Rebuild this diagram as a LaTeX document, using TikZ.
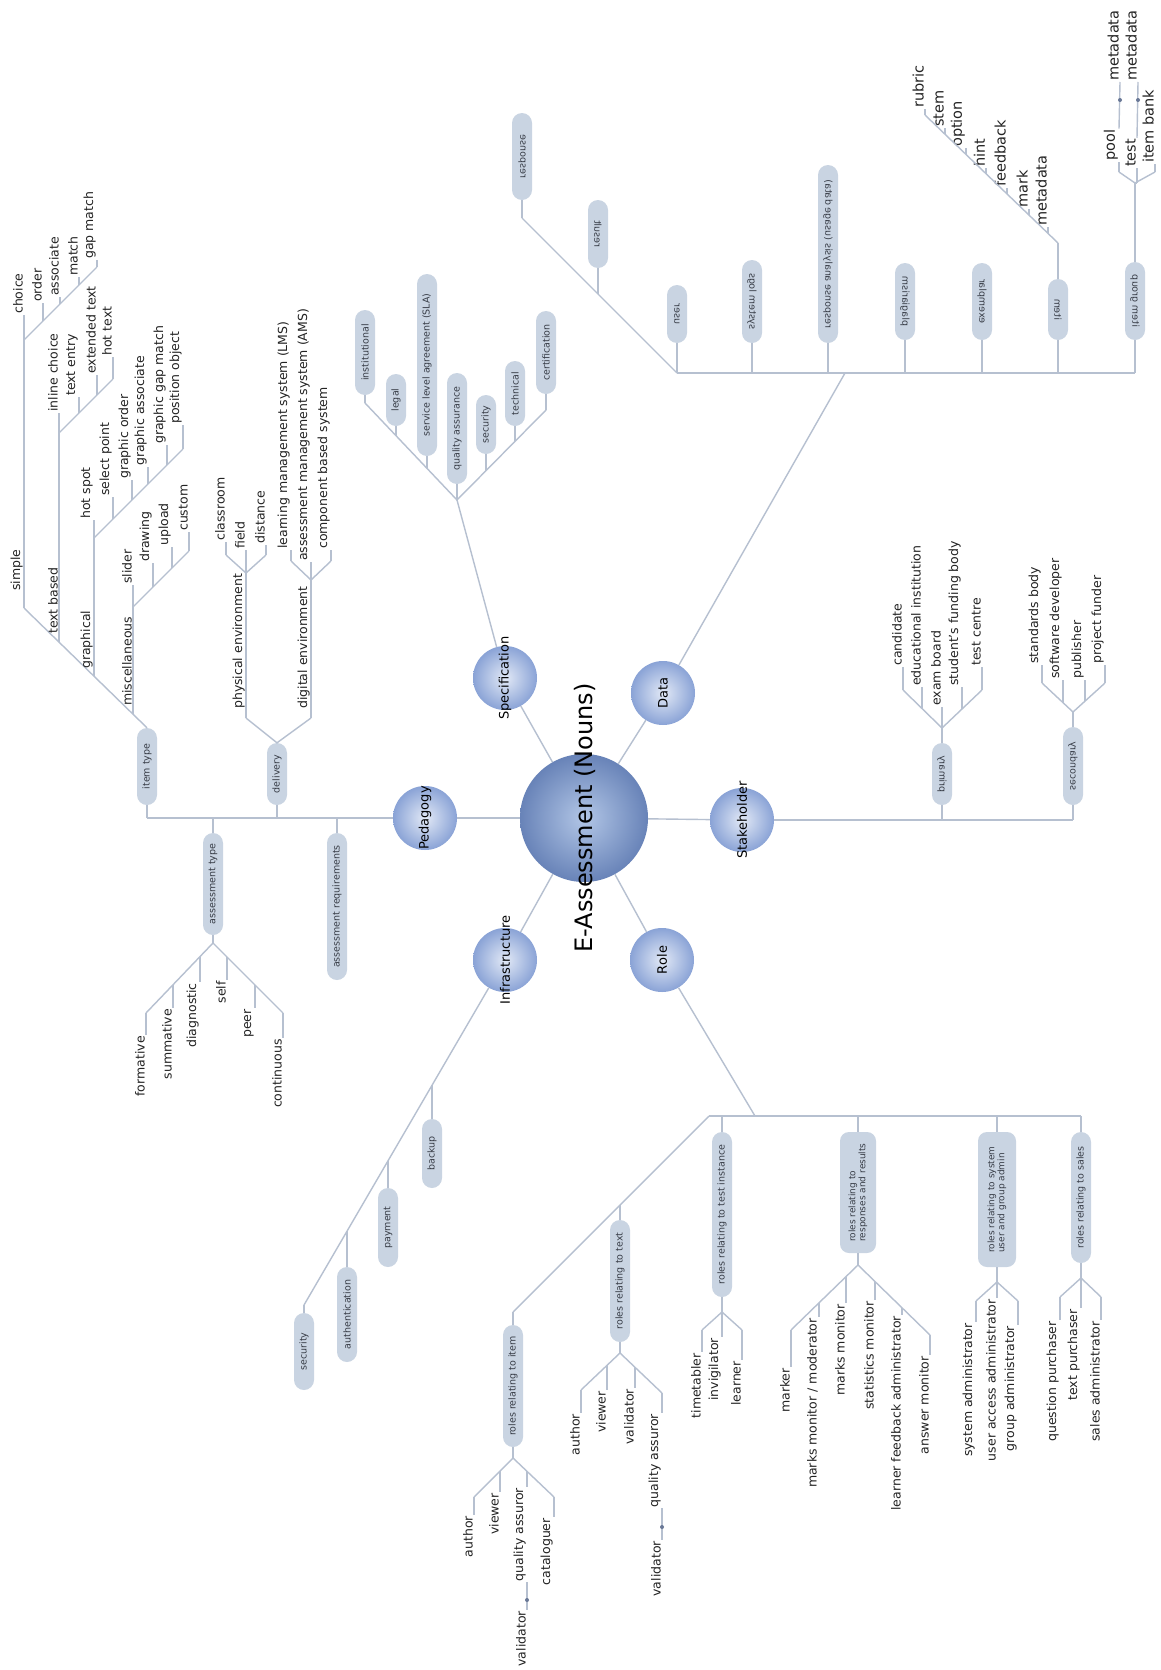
\documentclass[tikz,border=0pt]{standalone}
\usepackage{fontspec}
\setmainfont{DejaVu Sans}
\definecolor{lc}{RGB}{182,192,208}
\definecolor{pillc}{RGB}{201,212,226}
\definecolor{pilltxt}{RGB}{55,60,70}
\definecolor{leaftxt}{RGB}{35,35,35}
\definecolor{dotc}{RGB}{105,120,150}
\definecolor{satin}{RGB}{226,233,246}
\definecolor{satout}{RGB}{138,163,214}
\definecolor{rootin}{RGB}{178,198,230}
\definecolor{rootout}{RGB}{104,131,184}
\tikzset{
  ln/.style={draw=lc, line width=1.4pt},
  pill/.style={rotate=90, fill=pillc, rounded corners=10pt, minimum height=20pt, inner xsep=3pt, inner ysep=2pt, font=\fontsize{9.5}{10.5}\selectfont, text=pilltxt},
  mpill/.style={pill, yscale=-1},
  upl/.style={rotate=90, anchor=south west, inner sep=1pt, font=\fontsize{12.5}{14}\selectfont, text=leaftxt},
  upd/.style={upl, font=\fontsize{14.5}{16}\selectfont},
  dnl/.style={rotate=90, anchor=south east, inner sep=1pt, font=\fontsize{12.5}{14}\selectfont, text=leaftxt},
  sat/.style={circle, minimum size=64pt, inner sep=0pt, shading=radial, inner color=satin, outer color=satout},
  satl/.style={rotate=90, font=\fontsize{13}{15}\selectfont, text=black},
  dotn/.style={circle, fill=dotc, inner sep=0pt, minimum size=4pt},
}
\newcommand\UL[5]{\coordinate (#1j) at (#2,#3); \node[upl] (#1) at (#2,#4) {#5}; \draw[ln] (#1j) -- (#1.south west);}
\newcommand\UD[5]{\coordinate (#1j) at (#2,#3); \node[upd] (#1) at (#2,#4) {#5}; \draw[ln] (#1j) -- (#1.south west);}
\newcommand\DL[5]{\coordinate (#1j) at (#2,#3); \node[dnl] (#1) at (#2,#4) {#5}; \draw[ln] (#1j) -- (#1.south east);}
\newcommand\PL[5]{\node[pill, minimum width=#4-#3] (#1) at (#2,{(#3+#4)/2}) {#5};}
\newcommand\PM[5]{\node[mpill, minimum width=#4-#3] (#1) at (#2,{(#3+#4)/2}) {#5};}
\begin{document}
\begin{tikzpicture}[x=1pt,y=-1pt]
\fill[white] (0,0) rectangle (1161,1670);
\useasboundingbox (0,0) rectangle (1161,1670);
% ---------- circles ----------
\node[circle, minimum size=128pt, inner sep=0pt, shading=radial, inner color=rootin, outer color=rootout] (root) at (584,818) {};
\node[sat] (ped) at (425,818) {};
\node[sat] (spec) at (505,678) {};
\node[sat] (data) at (663,693) {};
\node[sat] (stake) at (742,820) {};
\node[sat] (role) at (662,960) {};
\node[sat] (infra) at (505,960) {};
\draw[ln] (root) -- (ped);
\draw[ln] (root) -- (spec);
\draw[ln] (root) -- (data);
\draw[ln] (root) -- (stake);
\draw[ln] (root) -- (role);
\draw[ln] (root) -- (infra);
% ---------- Pedagogy ----------
\coordinate (pedbar) at (147,818);
\draw[ln] (ped) -- (pedbar);
\PL{itype}{147}{728}{805}{item type}
\PL{deliv}{277}{743}{805}{delivery}
\PL{atype}{213}{833}{935}{assessment type}
\PL{areq}{337}{833}{980}{assessment requirements}
\draw[ln] (pedbar) -- (itype.west);
\coordinate (delj) at (277,818); \draw[ln] (delj) -- (deliv.west);
\coordinate (atj) at (213,818); \draw[ln] (atj) -- (atype.east);
\coordinate (arj) at (337,818); \draw[ln] (arj) -- (areq.east);
% item type
\coordinate (simplej) at (24,608);
\draw[ln] (itype.east) -- (simplej);
\coordinate (simplef) at (24,340); \draw[ln] (simplej) -- (simplef);
\node[upl] (simple) at (24,592) {simple};
\coordinate (tbj) at (59,642); \coordinate (tbf) at (59,433); \draw[ln] (tbj) -- (tbf);
\node[upl] (tb) at (59,635) {text based};
\coordinate (grj) at (94,676); \coordinate (grf) at (94,538); \draw[ln] (grj) -- (grf);
\node[upl] (gr) at (94,670) {graphical};
\coordinate (mij) at (133,714); \coordinate (mif) at (133,607); \draw[ln] (mij) -- (mif);
\node[upl] (mi) at (133,707) {miscellaneous};
\UL{choice}{24}{340}{315}{choice}
\UL{order}{43}{321}{303}{order}
\UL{associate}{60}{304}{297}{associate}
\UL{match}{79}{285}{277}{match}
\UL{gapmatch}{97}{267}{260}{gap match}
\draw[ln] (simplef) -- (gapmatchj);
\UL{inline}{59}{433}{413}{inline choice}
\UL{tentry}{79}{413}{397}{text entry}
\UL{exttext}{97}{395}{375}{extended text}
\UL{hottext}{113}{379}{357}{hot text}
\draw[ln] (tbf) -- (hottextj);
\UL{hotspot}{94}{538}{520}{hot spot}
\UL{selpoint}{113}{519}{497}{select point}
\UL{gorder}{132}{500}{480}{graphic order}
\UL{gassoc}{148}{484}{467}{graphic associate}
\UL{ggap}{167}{465}{445}{graphic gap match}
\UL{posobj}{183}{449}{425}{position object}
\draw[ln] (grf) -- (posobjj);
\UL{slider}{133}{607}{585}{slider}
\UL{drawing}{153}{587}{563}{drawing}
\UL{upload}{172}{568}{547}{upload}
\UL{custom}{189}{551}{532}{custom}
\draw[ln] (mif) -- (customj);
% delivery
\coordinate (physj) at (246,718); \coordinate (digj) at (311,718);
\draw[ln] (physj) -- (deliv.east) -- (digj);
\coordinate (physf) at (246,573); \draw[ln] (physj) -- (physf);
\node[upl] (phys) at (246,710) {physical environment};
\coordinate (digf) at (311,580); \draw[ln] (digj) -- (digf);
\node[upl] (dig) at (311,710) {digital environment};
\UL{classroom}{226}{555}{542}{classroom}
\UL{field}{246}{573}{550}{field}
\UL{distance}{266}{555}{545}{distance}
\draw[ln] (classroomj) -- (physf) -- (distancej);
\UL{lms}{291}{561}{550}{learning management system (LMS)}
\UL{ams}{311}{580}{562}{assessment management system (AMS)}
\UL{cbs}{331}{561}{550}{component based system}
\draw[ln] (lmsj) -- (digf) -- (cbsj);
% assessment type
\coordinate (atf) at (213,943); \draw[ln] (atype.west) -- (atf);
\DL{formative}{146}{1013}{1035}{formative}
\DL{summative}{173}{985}{1008}{summative}
\DL{diagnostic}{200}{957}{982}{diagnostic}
\DL{self}{227}{957}{980}{self}
\DL{peer}{255}{985}{1008}{peer}
\DL{continuous}{283}{1013}{1038}{continuous}
\draw[ln] (formativej) -- (atf) -- (continuousj);
% ---------- Specification ----------
\coordinate (specf) at (457,500);
\draw[ln] (spec) -- (specf);
\PL{sinst}{365}{310}{395}{institutional}
\PL{slegal}{396}{374}{426}{legal}
\PL{ssla}{427}{274}{456}{service level agreement (SLA)}
\PL{sqa}{457}{373}{484}{quality assurance}
\PL{ssec}{486}{395}{454}{security}
\PL{stech}{515}{361}{426}{technical}
\PL{scert}{546}{311}{394}{certification}
\coordinate (sinstj) at (365,403);
\coordinate (slegalj) at (396,436);
\coordinate (sslaj) at (427,468);
\coordinate (ssecj) at (486,471);
\coordinate (stechj) at (515,441);
\coordinate (scertj) at (546,410);
\draw[ln] (sinstj) -- (specf) -- (scertj);
\draw[ln] (sinstj) -- (sinst.west);
\draw[ln] (slegalj) -- (slegal.west);
\draw[ln] (sslaj) -- (ssla.west);
\draw[ln] (specf) -- (sqa.west);
\draw[ln] (ssecj) -- (ssec.west);
\draw[ln] (stechj) -- (stech.west);
\draw[ln] (scertj) -- (scert.west);
% ---------- Data ----------
\coordinate (dataj) at (845,373);
\draw[ln] (data) -- (dataj);
\coordinate (dbarl) at (677,373); \coordinate (dbarr) at (1135,373);
\draw[ln] (dbarl) -- (dbarr);
\coordinate (drespj) at (522,218); \draw[ln] (dbarl) -- (drespj);
\PM{dresp}{522}{113}{200}{response}
\PM{dres}{598}{200}{268}{result}
\PM{duser}{677}{285}{343}{user}
\PM{dsys}{752}{260}{343}{system logs}
\PM{dra}{828}{165}{343}{response analysis (usage data)}
\PM{dplag}{905}{263}{340}{plagiarism}
\PM{dexem}{982}{263}{340}{exemplar}
\PM{ditem}{1058}{279}{340}{item}
\PM{digrp}{1135}{262}{340}{item group}
\coordinate (dresj) at (598,294);
\coordinate (dsysj) at (752,373);
\coordinate (draj) at (828,373);
\coordinate (dplagj) at (905,373);
\coordinate (dexemj) at (982,373);
\coordinate (ditemj) at (1058,373);
\draw[ln] (drespj) -- (dresp.west);
\draw[ln] (dresj) -- (dres.west);
\draw[ln] (dbarl) -- (duser.west);
\draw[ln] (dsysj) -- (dsys.west);
\draw[ln] (draj) -- (dra.west);
\draw[ln] (dplagj) -- (dplag.west);
\draw[ln] (dexemj) -- (dexem.west);
\draw[ln] (ditemj) -- (ditem.west);
\draw[ln] (dbarr) -- (digrp.west);
% item leaves
\coordinate (itemf) at (1058,243); \draw[ln] (ditem.east) -- (itemf);
\UD{rubric}{925}{115}{109}{rubric}
\UD{stem}{945}{134}{128}{stem}
\UD{option}{966}{154}{148}{option}
\UD{hint}{986}{174}{168}{hint}
\UD{feedback}{1007}{194}{188}{feedback}
\UD{mark}{1029}{215}{209}{mark}
\UD{imeta}{1048}{233}{227}{metadata}
\draw[ln] (itemf) -- (rubricj);
% item group leaves
\coordinate (igf) at (1135,183); \draw[ln] (digrp.east) -- (igf);
\UD{pool}{1119}{172}{162}{pool}
\UD{test}{1137}{183}{168}{test}
\UD{ibank}{1155}{172}{164}{item bank}
\draw[ln] (poolj) -- (igf) -- (ibankj);
\draw[ln] (igf) -- (testj);
\node[upd] (meta1) at (1120,82) {metadata};
\node[upd] (meta2) at (1138,82) {metadata};
\draw[ln] (pool.south east) -- (meta1.south west);
\draw[ln] (test.south east) -- (meta2.south west);
\node[dotn] (dot1) at (1120,100) {};
\node[dotn] (dot2) at (1138,100) {};
% ---------- Stakeholder ----------
\coordinate (stakeend) at (1073,820);
\draw[ln] (stake) -- (stakeend);
\PM{prim}{942}{743}{805}{primary}
\PM{sec}{1073}{727}{805}{secondary}
\coordinate (primj) at (942,820); \draw[ln] (primj) -- (prim.west);
\draw[ln] (stakeend) -- (sec.west);
\coordinate (primf) at (942,728); \draw[ln] (prim.east) -- (primf);
\UL{cand}{903}{690}{667}{candidate}
\UL{edu}{922}{709}{687}{educational institution}
\UL{exam}{942}{728}{707}{exam board}
\UL{sfb}{962}{709}{687}{student’s funding body}
\UL{tc}{982}{690}{667}{test centre}
\draw[ln] (candj) -- (primf) -- (tcj);
\coordinate (secf) at (1073,712); \draw[ln] (sec.east) -- (secf);
\UL{std}{1042}{683}{665}{standards body}
\UL{swd}{1063}{703}{680}{software developer}
\UL{pub}{1085}{701}{680}{publisher}
\UL{pf}{1105}{683}{665}{project funder}
\draw[ln] (stdj) -- (secf) -- (pfj);
% ---------- Infrastructure ----------
\coordinate (infj) at (304,1305);
\draw[ln] (infra) -- (infj);
\PL{ibackup}{432}{1119}{1188}{backup}
\PL{ipay}{388}{1188}{1267}{payment}
\PL{iauth}{347}{1267}{1362}{authentication}
\PL{isec}{304}{1313}{1390}{security}
\coordinate (ibackupj) at (432,1085); \draw[ln] (ibackupj) -- (ibackup.east);
\coordinate (ipayj) at (388,1161); \draw[ln] (ipayj) -- (ipay.east);
\coordinate (iauthj) at (347,1231); \draw[ln] (iauthj) -- (iauth.east);
\draw[ln] (infj) -- (isec.east);
% ---------- Role ----------
\coordinate (rolej) at (755,1116);
\draw[ln] (role) -- (rolej);
\coordinate (rbarl) at (709,1116); \coordinate (rbarr) at (1081,1116);
\draw[ln] (rbarl) -- (rbarr);
\coordinate (ritemj) at (513,1312); \draw[ln] (rbarl) -- (ritemj);
\PL{ritem}{513}{1325}{1447}{roles relating to item}
\PL{rtext}{620}{1220}{1342}{roles relating to text}
\PL{rtest}{722}{1132}{1297}{roles relating to test instance}
\node[pill, minimum width=121pt, minimum height=36pt, rounded corners=9pt, align=left, font=\fontsize{9}{10}\selectfont] (rresp) at (858,1192.5) {roles relating to\\responses and results};
\node[pill, minimum width=135pt, minimum height=38pt, rounded corners=9pt, align=left, font=\fontsize{9}{10}\selectfont] (rsys) at (997,1199.5) {roles relating to system\\user and group admin};
\PL{rsales}{1081}{1132}{1263}{roles relating to sales}
\draw[ln] (ritemj) -- (ritem.east);
\coordinate (rtextj) at (620,1205); \draw[ln] (rtextj) -- (rtext.east);
\coordinate (rtestj) at (722,1116); \draw[ln] (rtestj) -- (rtest.east);
\coordinate (rrespj) at (858,1116); \draw[ln] (rrespj) -- (rresp.east);
\coordinate (rsysj) at (997,1116); \draw[ln] (rsysj) -- (rsys.east);
\draw[ln] (rbarr) -- (rsales.east);
% test instance
\coordinate (rtestf) at (722,1312); \draw[ln] (rtest.west) -- (rtestf);
\DL{timet}{702}{1330}{1352}{timetabler}
\DL{invig}{722}{1312}{1337}{invigilator}
\DL{learner}{742}{1330}{1360}{learner}
\draw[ln] (timetj) -- (rtestf) -- (learnerj);
% responses and results
\coordinate (rrespf) at (858,1265); \draw[ln] (rresp.west) -- (rrespf);
\DL{marker}{791}{1330}{1367}{marker}
\DL{mmm}{819}{1303}{1317}{marks monitor / moderator}
\DL{mm}{846}{1277}{1303}{marks monitor}
\DL{stm}{875}{1282}{1300}{statistics monitor}
\DL{lfa}{902}{1308}{1315}{learner feedback administrator}
\DL{ansm}{930}{1335}{1355}{answer monitor}
\draw[ln] (markerj) -- (rrespf) -- (ansmj);
% system admin
\coordinate (rsysf) at (997,1282); \draw[ln] (rsys.west) -- (rsysf);
\DL{sysadm}{976}{1301}{1322}{system administrator}
\DL{uaa}{997}{1282}{1298}{user access administrator}
\DL{gadm}{1018}{1301}{1325}{group administrator}
\draw[ln] (sysadmj) -- (rsysf) -- (gadmj);
% sales
\coordinate (rsalesf) at (1081,1278); \draw[ln] (rsales.west) -- (rsalesf);
\DL{qp}{1060}{1297}{1320}{question purchaser}
\DL{tp}{1081}{1278}{1308}{text purchaser}
\DL{sadm}{1101}{1297}{1320}{sales administrator}
\draw[ln] (qpj) -- (rsalesf) -- (sadmj);
% text
\coordinate (rtextf) at (620,1353); \draw[ln] (rtext.west) -- (rtextf);
\DL{tauthor}{581}{1390}{1413}{author}
\DL{tviewer}{607}{1365}{1390}{viewer}
\DL{tvalid}{635}{1367}{1388}{validator}
\DL{tqa}{662}{1393}{1413}{quality assuror}
\draw[ln] (tauthorj) -- (rtextf) -- (tqaj);
\node[dnl] (tval2) at (662,1540) {validator};
\draw[ln] (tqa.south west) -- (tval2.south east);
\node[dotn] (dot3) at (662,1527) {};
% item
\coordinate (ritemf) at (513,1458); \draw[ln] (ritem.west) -- (ritemf);
\DL{iauthor}{474}{1497}{1515}{author}
\DL{iviewer}{500}{1471}{1492}{viewer}
\DL{iqa}{527}{1471}{1487}{quality assuror}
\DL{icat}{554}{1497}{1517}{cataloguer}
\draw[ln] (iauthorj) -- (ritemf) -- (icatj);
\node[dnl] (ival2) at (527,1610) {validator};
\draw[ln] (iqa.south west) -- (ival2.south east);
\node[dotn] (dot4) at (527,1600) {};
% ---------- circle labels ----------
\node[rotate=90, font=\fontsize{24}{28}\selectfont] (roott) at (585,818) {E-Assessment (Nouns)};
\node[satl] (pedt) at (ped.center) {Pedagogy};
\node[satl] (spect) at (spec.center) {Specification};
\node[satl] (datat) at (data.center) {Data};
\node[satl] (staket) at (stake.center) {Stakeholder};
\node[satl] (rolet) at (role.center) {Role};
\node[satl] (infrat) at (infra.center) {Infrastructure};
\end{tikzpicture}
\end{document}
